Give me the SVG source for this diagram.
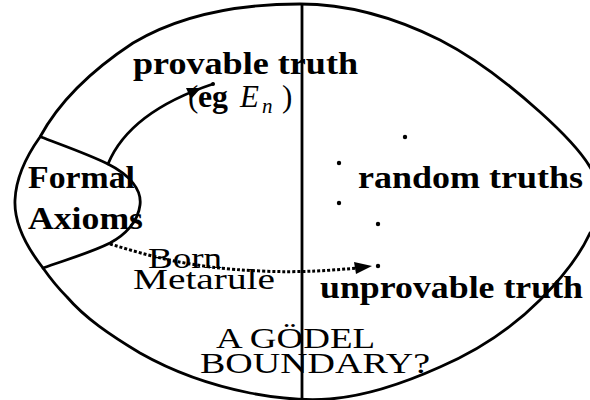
<svg xmlns="http://www.w3.org/2000/svg" width="590" height="400" viewBox="0 0 590 400">
<style>
.ln{fill:none;stroke:#000;stroke-width:2.8;stroke-linejoin:round;stroke-linecap:round}
.dot{fill:#000}
.b{font-family:"Liberation Serif","DejaVu Serif",serif;font-size:31px;font-weight:bold;fill:#000}
.r{font-family:"Liberation Serif","DejaVu Serif",serif;font-size:30px;fill:#000}
</style>
<rect width="590" height="400" fill="#fff"/>
<g id="universe">
<path class="ln" d="M300,4 C350,4 400,20 440,40 C475,58 510,85 540,112 C560,130 580,150 590,167 C598,180 603,205 601,215 C599,225 595,230 590,233 C580,255 560,280 540,300 C510,330 475,352 440,367 C400,385 365,396 330,399 C300,401 275,398 250,393 C210,385 170,370 140,353 C110,335 85,318 67,297 C57,287 50,278 43,268 C25,245 14,222 15,200 C16,178 25,158 40,137 C60,100 95,68 133,43 C180,15 240,4 300,4 Z"/>
<path class="ln" d="M302,5 L302,400"/>
</g>
<g id="formal-axioms">
<path class="ln" d="M41,137 C70,148 90,155 108,164 C130,175 142,190 140,205 C138,222 125,235 110,243 C90,253 65,260 43,268"/>
<text class="b" x="28" y="188" textLength="107" lengthAdjust="spacingAndGlyphs">Formal</text>
<text class="b" x="28" y="229" textLength="115" lengthAdjust="spacingAndGlyphs">Axioms</text>
</g>
<g id="provable-truth">
<text class="b" x="133" y="74" textLength="225" lengthAdjust="spacingAndGlyphs">provable truth</text>
<text class="b" y="107"><tspan x="188" font-weight="normal">(</tspan><tspan x="198" textLength="30" lengthAdjust="spacingAndGlyphs">eg</tspan><tspan x="240" font-style="italic" font-weight="normal">E</tspan><tspan x="262" y="113" font-size="21" font-style="italic" font-weight="normal">n</tspan><tspan x="282" y="107" font-weight="normal">)</tspan></text>
</g>
<g id="random-truths">
<circle class="dot" cx="405" cy="137" r="2.2"/>
<circle class="dot" cx="339" cy="163" r="2.2"/>
<circle class="dot" cx="339" cy="203" r="2.2"/>
<circle class="dot" cx="378" cy="224" r="2.2"/>
<text class="b" x="358" y="188" textLength="225" lengthAdjust="spacingAndGlyphs">random truths</text>
</g>
<g id="unprovable-truth">
<circle class="dot" cx="378" cy="266" r="2.2"/>
<text class="b" x="320" y="298" textLength="263" lengthAdjust="spacingAndGlyphs">unprovable truth</text>
</g>
<g id="godel-boundary">
<text class="r" x="216" y="348" textLength="159" lengthAdjust="spacingAndGlyphs">A GÖDEL</text>
<text class="r" x="200" y="373" textLength="230" lengthAdjust="spacingAndGlyphs">BOUNDARY?</text>
</g>
<g id="connectors">
<path class="ln" d="M108,164 C120,135 150,105 213,84"/>
<circle class="dot" cx="213" cy="84" r="2"/>
<polygon class="dot" points="201,88 186,88 191,99"/>
<path fill="none" stroke="#000" stroke-width="3" stroke-dasharray="3 2" d="M110,244 C150,256 190,268 260,271 C300,273 335,270 358,268"/>
<polygon class="dot" points="372,266 354,262 356,274"/>
<text class="r" x="148" y="268" textLength="74" lengthAdjust="spacingAndGlyphs">Born</text>
<text class="r" x="133" y="289" textLength="142" lengthAdjust="spacingAndGlyphs">Metarule</text>
</g>
</svg>
